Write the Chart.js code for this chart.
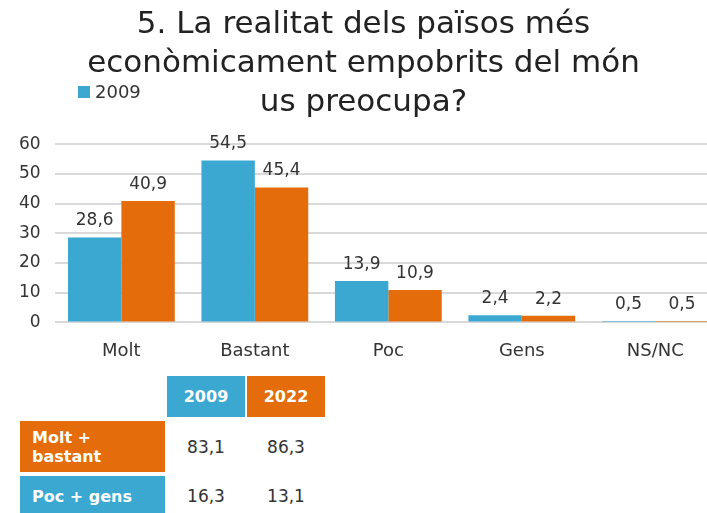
<!DOCTYPE html>
<html>
<head>
<meta charset="utf-8">
<script src="https://cdn.jsdelivr.net/npm/chart.js@4"></script>
<style>
    html, body { margin: 0; padding: 0; background: #fff; overflow: hidden; }
    body { width: 707px; height: 513px; position: relative; font-family: "DejaVu Sans", sans-serif; }
    #wrap { position: absolute; left: 0; top: 0; width: 722px; height: 380px; }
    .legend { position: absolute; left: 78px; top: 81px; font-size: 18px; color: #333; display: flex; align-items: center; }
    .legend .sq { width: 12px; height: 12px; background: #3AA8D1; margin-right: 5px; }
    .cell { position: absolute; display: flex; align-items: center; box-sizing: border-box; font-size: 16px; }
    .head { color: #fff; font-weight: bold; justify-content: center; }
    .rowlab { color: #fff; font-weight: bold; padding-left: 12px; line-height: 19px; }
    .val { color: #333; justify-content: center; font-size: 17px; }
</style>
</head>
<body>
<div id="wrap"><canvas id="chart"></canvas></div>
<div class="legend"><span class="sq"></span><span id="legend-label"></span></div>
<div id="table"></div>

<script>
// ---- dades ----
const categories = ['Molt', 'Bastant', 'Poc', 'Gens', 'NS/NC'];
const values2009 = [28.6, 54.5, 13.9, 2.4, 0.5];
const values2022 = [40.9, 45.4, 10.9, 2.2, 0.5];
const seriesNames = ['2009', '2022'];
const titleLines = ['5. La realitat dels països més', 'econòmicament empobrits del món', 'us preocupa?'];

const tableCols = ['2009', '2022'];
const tableRows = ['Molt +<br>bastant', 'Poc + gens'];
const tableValues = [[83.1, 86.3], [16.3, 13.1]];

const BLUE = '#3AA8D1';
const ORANGE = '#E46C0A';
const FONT = '"DejaVu Sans", sans-serif';

const fmt = v => v.toFixed(1).replace('.', ',');

// etiquetes de valor sobre les barres
const valueLabels = {
    id: 'valueLabels',
    afterDatasetsDraw(chart) {
        const ctx = chart.ctx;
        ctx.save();
        ctx.font = '17px ' + FONT;
        ctx.fillStyle = '#333';
        ctx.textAlign = 'center';
        ctx.textBaseline = 'bottom';
        chart.data.datasets.forEach((ds, i) => {
            chart.getDatasetMeta(i).data.forEach((bar, j) => {
                ctx.fillText(fmt(ds.data[j]), bar.x, bar.y - 8);
            });
        });
        ctx.restore();
    }
};

new Chart(document.getElementById('chart'), {
    type: 'bar',
    data: {
        labels: categories,
        datasets: [
            { label: seriesNames[0], data: values2009, backgroundColor: BLUE },
            { label: seriesNames[1], data: values2022, backgroundColor: ORANGE }
        ]
    },
    options: {
        responsive: true,
        maintainAspectRatio: false,
        animation: false,
        layout: { padding: { left: 5, right: 0, bottom: 8 } },
        datasets: { bar: { barPercentage: 1, categoryPercentage: 0.8 } },
        plugins: {
            legend: { display: false },
            tooltip: { enabled: false },
            title: {
                display: true,
                text: titleLines,
                color: '#222',
                font: { family: FONT, size: 31, weight: 'normal', lineHeight: 1.26 },
                padding: { top: 5, bottom: 22 }
            }
        },
        scales: {
            x: {
                grid: { display: false },
                border: { display: false },
                ticks: { color: '#333', font: { family: FONT, size: 18 }, padding: 10 }
            },
            y: {
                min: 0, max: 60,
                ticks: { stepSize: 10, color: '#333', font: { family: FONT, size: 17 }, padding: 14 },
                grid: { color: '#D9D9D9', lineWidth: 2, drawTicks: false },
                border: { display: false }
            }
        }
    },
    plugins: [valueLabels]
});

document.getElementById('legend-label').textContent = seriesNames[0];

// taula resum
const table = document.getElementById('table');
const colX = [167, 247];
const colW = 78;
const rowY = [421, 476];
const rowH = [51, 40];
const colColors = [BLUE, ORANGE];
const rowColors = [ORANGE, BLUE];
let html = '';
tableCols.forEach((c, i) => {
    html += `<div class="cell head" style="left:${colX[i]}px;top:376px;width:${colW}px;height:41px;background:${colColors[i]}">${c}</div>`;
});
tableRows.forEach((r, i) => {
    html += `<div class="cell rowlab" style="left:20px;top:${rowY[i]}px;width:145px;height:${rowH[i]}px;background:${rowColors[i]}">${r}</div>`;
    tableValues[i].forEach((v, j) => {
        html += `<div class="cell val" style="left:${colX[j]}px;top:${rowY[i]}px;width:${colW}px;height:${rowH[i]}px">${fmt(v)}</div>`;
    });
});
table.innerHTML = html;
</script>
</body>
</html>
